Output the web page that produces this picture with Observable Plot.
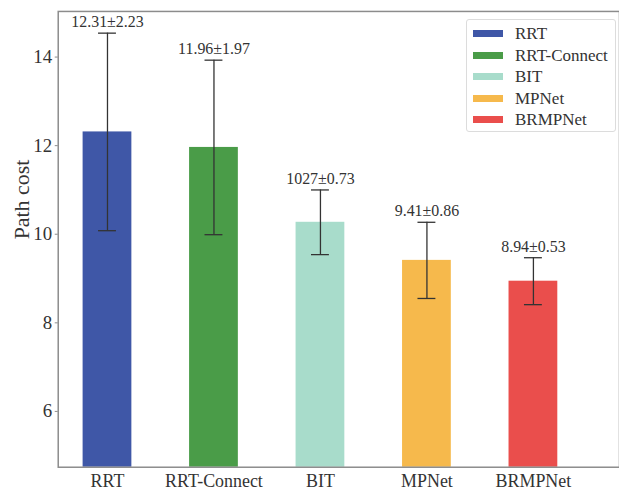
<!DOCTYPE html>
<html>
<head>
<meta charset="utf-8">
<script src="https://cdn.jsdelivr.net/npm/d3@7"></script>
<script src="https://cdn.jsdelivr.net/npm/@observablehq/plot@0.6"></script>
<style>
  html, body { margin: 0; padding: 0; background: #fff; overflow: hidden; }
  #wrap { position: relative; width: 619px; height: 494px; overflow: hidden; }
  #chart svg text { font-family: "Liberation Serif", "Times New Roman", "DejaVu Serif", serif !important; }
  #legend {
    position: absolute; left: 466px; top: 19px; width: 150px; height: 113px;
    box-sizing: border-box; border: 1px solid #dcdcdc; border-radius: 3px; background: #fff;
    font-family: "Liberation Serif", "Times New Roman", "DejaVu Serif", serif; font-size: 17px; color: #333;
    padding-top: 3px;
  }
  .row { position: relative; height: 21.5px; }
  .sw { position: absolute; left: 6px; top: 7px; width: 30px; height: 7px; }
  .lb { position: absolute; left: 48px; top: 0px; line-height: 21px; }
</style>
</head>
<body>
<div id="wrap"><div id="chart"></div><div id="legend"></div></div>
<script>
const methods = ["RRT", "RRT-Connect", "BIT", "MPNet", "BRMPNet"];
const means = [12.31, 11.96, 10.27, 9.41, 8.94];
const errors = [2.23, 1.97, 0.73, 0.86, 0.53];
const labels = ["12.31±2.23", "11.96±1.97", "1027±0.73", "9.41±0.86", "8.94±0.53"];
const colors = ["#3f57a7", "#4a9c48", "#a8dccb", "#f6b94c", "#ea4e4c"];
const yTicks = [6, 8, 10, 12, 14];

const data = methods.map((m, i) => ({
  method: m, mean: means[i], err: errors[i], label: labels[i],
  lo: means[i] - errors[i], hi: means[i] + errors[i]
}));

const yDomain = [4.74, 15.03];
const ink = "#333";
const axisGray = "#8c8c8c";

const chart = Plot.plot({
  width: 622,
  height: 494,
  marginLeft: 58,
  marginRight: 0,
  marginTop: 11,
  marginBottom: 25,
  style: { fontFamily: "'Liberation Serif', 'Times New Roman', serif", color: ink, background: "#fff" },
  x: { domain: methods, paddingInner: 0.545, paddingOuter: 0.39, align: 0.286, label: null },
  y: { domain: yDomain, label: null },
  color: { domain: methods, range: colors },
  marks: [
    Plot.barY(data, { x: "method", y1: yDomain[0], y2: "mean", fill: "method" }),
    Plot.ruleX(data, { x: "method", y1: "lo", y2: "hi", stroke: ink, strokeWidth: 1.3 }),
    Plot.tickY(data, { x: "method", y: "lo", stroke: ink, strokeWidth: 1.3, insetLeft: 15.5, insetRight: 15.5 }),
    Plot.tickY(data, { x: "method", y: "hi", stroke: ink, strokeWidth: 1.3, insetLeft: 15.5, insetRight: 15.5 }),
    Plot.text(data, { x: "method", y: "hi", text: "label", lineAnchor: "bottom", dy: -6, fontSize: 16, fill: ink }),
    Plot.frame({ stroke: axisGray, strokeWidth: 1.5 }),
    Plot.axisY({ ticks: yTicks, tickSize: 3, tickPadding: 3, fontSize: 19, stroke: axisGray, color: ink, label: null }),
    Plot.axisX({ tickSize: 0, tickPadding: 7, fontSize: 18, color: ink, label: null }),
    Plot.text(["Path cost"], { frameAnchor: "left", rotate: -90, dx: -36, fontSize: 22, fill: ink })
  ]
});
document.getElementById("chart").appendChild(chart);

const legend = document.getElementById("legend");
methods.forEach((m, i) => {
  const row = document.createElement("div");
  row.className = "row";
  const sw = document.createElement("div");
  sw.className = "sw";
  sw.style.background = colors[i];
  const lb = document.createElement("div");
  lb.className = "lb";
  lb.textContent = m;
  row.appendChild(sw);
  row.appendChild(lb);
  legend.appendChild(row);
});
</script>
</body>
</html>
